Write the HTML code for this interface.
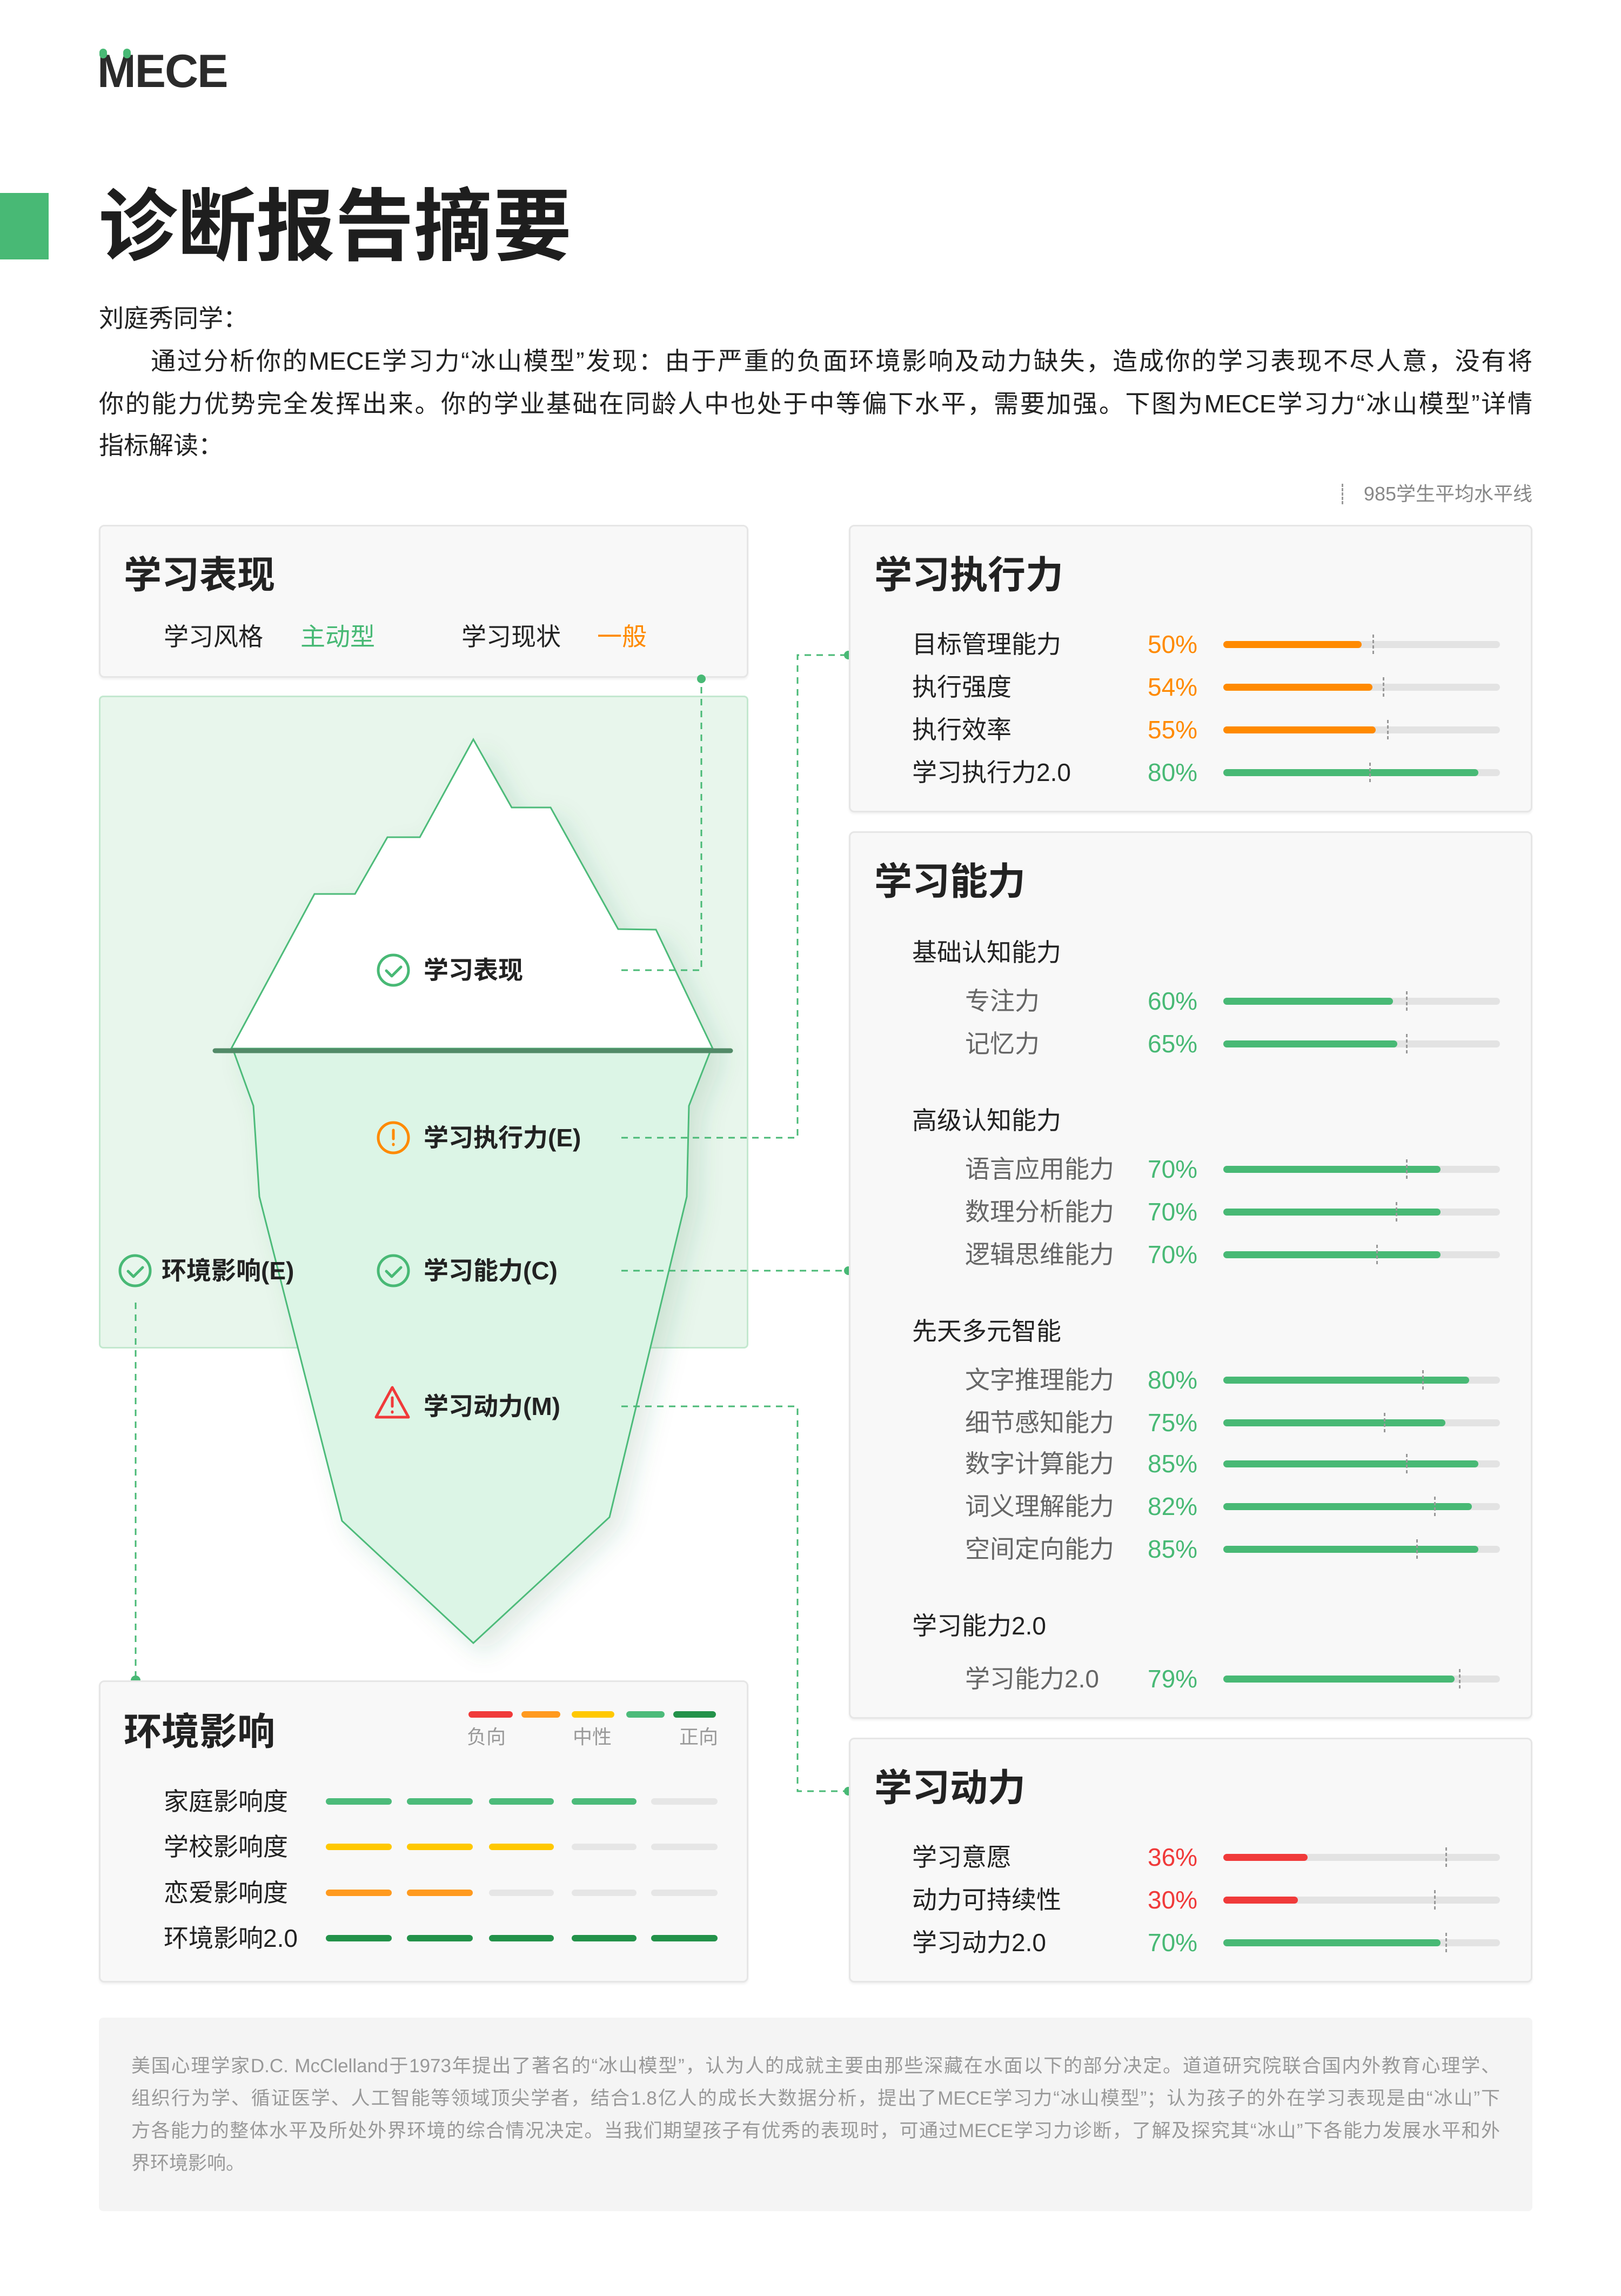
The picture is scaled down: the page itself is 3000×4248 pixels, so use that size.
<!DOCTYPE html>
<html><head><meta charset="utf-8"><style>
*{margin:0;padding:0;box-sizing:border-box}
body{width:3000px;height:4248px;background:#fff;position:relative;overflow:hidden;font-family:"Liberation Sans","Noto Sans CJK SC",sans-serif;color:#222}
.a{position:absolute;white-space:nowrap}
.card{position:absolute;background:#f8f8f8;border:3px solid #e6e6e6;border-radius:10px;box-shadow:0 3px 4px rgba(0,0,0,0.06)}
.t{font-size:70px;font-weight:bold;line-height:80px}
.l{font-size:46px;line-height:60px}
.g{color:#48b975}.o{color:#ff8a00}.r{color:#f03a3a}
.trk{position:absolute;height:13px;background:#e3e3e3;border-radius:7px;width:512px;left:2264px}
.fl{position:absolute;left:0;top:0;height:13px;border-radius:7px}
.mk{position:absolute;width:0;height:36px;border-left:3px dashed #999;top:-12px}
.jl{position:absolute;text-align:justify;text-align-last:justify;white-space:nowrap}
.seg{position:absolute;height:12px;border-radius:6px}
</style></head><body>

<!-- logo -->
<div class="a" style="left:180px;top:82px;font-size:86px;font-weight:bold;color:#2b2b2b;letter-spacing:-2px;line-height:100px">MECE</div>
<div class="a" style="left:184px;top:90px;width:14px;height:18px;background:#48b975;border-radius:7px"></div>
<div class="a" style="left:228px;top:90px;width:14px;height:18px;background:#48b975;border-radius:7px"></div>

<!-- title -->
<div class="a" style="left:0;top:357px;width:90px;height:123px;background:#48b975"></div>
<div class="a" style="left:182px;top:340px;font-size:146px;font-weight:bold;line-height:160px;color:#1e1e1e">诊断报告摘要</div>

<!-- paragraph -->
<div class="a l" style="left:183px;top:559px;font-size:46px">刘庭秀同学：</div>
<div class="jl l" style="left:183px;top:638px;width:2653px;padding-left:96px">通过分析你的MECE学习力“冰山模型”发现：由于严重的负面环境影响及动力缺失，造成你的学习表现不尽人意，没有将</div>
<div class="jl l" style="left:183px;top:717px;width:2653px">你的能力优势完全发挥出来。你的学业基础在同龄人中也处于中等偏下水平，需要加强。下图为MECE学习力“冰山模型”详情</div>
<div class="a l" style="left:183px;top:794px">指标解读：</div>

<div class="a" style="left:2483px;top:895px;height:38px;border-left:3px dashed #999"></div>
<div class="a" style="right:164px;top:892px;font-size:36px;line-height:44px;color:#888">985学生平均水平线</div>

<!-- 学习表现 card -->
<div class="card" style="left:183px;top:971px;width:1202px;height:283px"></div>
<div class="a t" style="left:229px;top:1024px">学习表现</div>
<div class="a l" style="left:303px;top:1148px">学习风格</div>
<div class="a l g" style="left:556px;top:1148px">主动型</div>
<div class="a l" style="left:854px;top:1148px">学习现状</div>
<div class="a l o" style="left:1105px;top:1148px">一般</div>

<!-- green box -->
<div class="a" style="left:183px;top:1287px;width:1202px;height:1208px;background:#e8f6ec;border:3px solid #c3e8cf;border-radius:8px"></div>

<svg class="a" style="left:0;top:0" width="3000" height="4248" viewBox="0 0 3000 4248">
<defs><filter id="sh" x="-20%" y="-20%" width="140%" height="140%"><feDropShadow dx="20" dy="20" stdDeviation="22" flood-color="#2e7a4a" flood-opacity="0.15"/></filter></defs>
<g filter="url(#sh)">
<polygon points="432,1944 469,2046 480,2214 633,2814 876,3040 1128,2807 1271,2214 1275,2046 1315,1944" fill="#dcf5e6" stroke="#4dbb7a" stroke-width="3"/>
<polygon points="428,1940 582,1654 657,1654 717,1549 777,1549 876,1368 947,1494 1019,1494 1144,1719 1214,1720 1319,1940" fill="#fff" stroke="#4dbb7a" stroke-width="3"/>
</g>
<line x1="398" y1="1944" x2="1352" y2="1944" stroke="#528a68" stroke-width="9" stroke-linecap="round"/>
<g stroke="#48b975" stroke-width="3" stroke-dasharray="12,10" fill="none">
<polyline points="1150,1795 1298,1795 1298,1256"/>
<polyline points="1150,2105 1476,2105 1476,1212 1568,1212"/>
<polyline points="1150,2351 1568,2351"/>
<polyline points="1150,2602 1476,2602 1476,3314 1568,3314"/>
<polyline points="251,2410 251,3109"/>
</g>
<g fill="#48b975">
<circle cx="1298" cy="1256" r="8"/><circle cx="1570" cy="1212" r="8"/><circle cx="1570" cy="2351" r="8"/><circle cx="1570" cy="3314" r="8"/><circle cx="251" cy="3109" r="9"/>
</g>
<g fill="none" stroke-width="5" stroke-linecap="round" stroke-linejoin="round">
<circle cx="728" cy="1795" r="28" stroke="#48b975"/><polyline points="715,1796 725,1806 742,1789" stroke="#48b975"/>
<circle cx="728" cy="2105" r="28" stroke="#ff8a00"/><line x1="728" y1="2091" x2="728" y2="2107" stroke="#ff8a00"/><line x1="728" y1="2117" x2="728" y2="2118" stroke="#ff8a00"/>
<circle cx="728" cy="2351" r="28" stroke="#48b975"/><polyline points="715,2352 725,2362 742,2345" stroke="#48b975"/>
<path d="M726,2567 L756,2622 L696,2622 Z" stroke="#f03a3a"/><line x1="726" y1="2586" x2="726" y2="2602" stroke="#f03a3a"/><line x1="726" y1="2612" x2="726" y2="2613" stroke="#f03a3a"/>
<circle cx="250" cy="2351" r="28" stroke="#48b975"/><polyline points="237,2352 247,2362 264,2345" stroke="#48b975"/>
</g>
</svg>

<div class="a l" style="left:784px;top:1765px;font-weight:bold">学习表现</div>
<div class="a l" style="left:784px;top:2075px;font-weight:bold">学习执行力(E)</div>
<div class="a l" style="left:784px;top:2321px;font-weight:bold">学习能力(C)</div>
<div class="a l" style="left:784px;top:2572px;font-weight:bold">学习动力(M)</div>
<div class="a l" style="left:299px;top:2321px;font-weight:bold">环境影响(E)</div>

<!-- 环境影响 card -->
<div class="card" style="left:183px;top:3109px;width:1202px;height:559px"></div>
<div class="a t" style="left:229px;top:3164px">环境影响</div>
<div class="seg" style="left:867px;top:3166px;width:82px;background:#f03a3a"></div>
<div class="seg" style="left:965px;top:3166px;width:72px;background:#ff9a1f"></div>
<div class="seg" style="left:1058px;top:3166px;width:79px;background:#ffc800"></div>
<div class="seg" style="left:1159px;top:3166px;width:71px;background:#4cbb7a"></div>
<div class="seg" style="left:1246px;top:3166px;width:79px;background:#23924a"></div>
<div class="a" style="left:864px;top:3192px;font-size:36px;line-height:44px;color:#999">负向</div>
<div class="a" style="left:1060px;top:3192px;font-size:36px;line-height:44px;color:#999">中性</div>
<div class="a" style="left:1257px;top:3192px;font-size:36px;line-height:44px;color:#999">正向</div>

<div class="a l" style="left:303px;top:3303px">家庭影响度</div>
<div class="a l" style="left:303px;top:3387px">学校影响度</div>
<div class="a l" style="left:303px;top:3472px">恋爱影响度</div>
<div class="a l" style="left:303px;top:3556px">环境影响2.0</div>

<div class="seg" style="left:603px;top:3327px;width:122px;background:#4cbb7a"></div>
<div class="seg" style="left:753px;top:3327px;width:122px;background:#4cbb7a"></div>
<div class="seg" style="left:905px;top:3327px;width:120px;background:#4cbb7a"></div>
<div class="seg" style="left:1058px;top:3327px;width:120px;background:#4cbb7a"></div>
<div class="seg" style="left:1205px;top:3327px;width:123px;background:#e6e6e6"></div>

<div class="seg" style="left:603px;top:3411px;width:122px;background:#ffc800"></div>
<div class="seg" style="left:753px;top:3411px;width:122px;background:#ffc800"></div>
<div class="seg" style="left:905px;top:3411px;width:120px;background:#ffc800"></div>
<div class="seg" style="left:1058px;top:3411px;width:120px;background:#e6e6e6"></div>
<div class="seg" style="left:1205px;top:3411px;width:123px;background:#e6e6e6"></div>

<div class="seg" style="left:603px;top:3496px;width:122px;background:#ff9a1f"></div>
<div class="seg" style="left:753px;top:3496px;width:122px;background:#ff9a1f"></div>
<div class="seg" style="left:905px;top:3496px;width:120px;background:#e6e6e6"></div>
<div class="seg" style="left:1058px;top:3496px;width:120px;background:#e6e6e6"></div>
<div class="seg" style="left:1205px;top:3496px;width:123px;background:#e6e6e6"></div>

<div class="seg" style="left:603px;top:3580px;width:122px;background:#23924a"></div>
<div class="seg" style="left:753px;top:3580px;width:122px;background:#23924a"></div>
<div class="seg" style="left:905px;top:3580px;width:120px;background:#23924a"></div>
<div class="seg" style="left:1058px;top:3580px;width:120px;background:#23924a"></div>
<div class="seg" style="left:1205px;top:3580px;width:123px;background:#23924a"></div>

<!-- 学习执行力 -->
<div class="card" style="left:1571px;top:971px;width:1265px;height:532px"></div>
<div class="a t" style="left:1618px;top:1024px">学习执行力</div>
<div class="a l" style="left:1688px;top:1162px">目标管理能力</div>
<div class="a l" style="left:1688px;top:1241px">执行强度</div>
<div class="a l" style="left:1688px;top:1320px">执行效率</div>
<div class="a l" style="left:1688px;top:1399px">学习执行力2.0</div>
<div class="a l o" style="left:2124px;top:1162px">50%</div>
<div class="a l o" style="left:2124px;top:1241px">54%</div>
<div class="a l o" style="left:2124px;top:1320px">55%</div>
<div class="a l g" style="left:2124px;top:1399px">80%</div>
<div class="trk" style="top:1186px"><div class="fl" style="width:256px;background:#ff8a00"></div><div class="mk" style="left:276px"></div></div>
<div class="trk" style="top:1265px"><div class="fl" style="width:276px;background:#ff8a00"></div><div class="mk" style="left:295px"></div></div>
<div class="trk" style="top:1344px"><div class="fl" style="width:282px;background:#ff8a00"></div><div class="mk" style="left:303px"></div></div>
<div class="trk" style="top:1423px"><div class="fl" style="width:472px;background:#48b975"></div><div class="mk" style="left:270px"></div></div>

<!-- 学习能力 -->
<div class="card" style="left:1571px;top:1538px;width:1265px;height:1642px"></div>
<div class="a t" style="left:1618px;top:1591px">学习能力</div>
<div class="a l" style="left:1688px;top:1732px">基础认知能力</div>
<div class="a l" style="left:1688px;top:2043px">高级认知能力</div>
<div class="a l" style="left:1688px;top:2433px">先天多元智能</div>
<div class="a l" style="left:1688px;top:2978px">学习能力2.0</div>

<div class="a l" style="left:1786px;top:1822px;color:#666">专注力</div>
<div class="a l" style="left:1786px;top:1901px;color:#666">记忆力</div>
<div class="a l" style="left:1786px;top:2133px;color:#666">语言应用能力</div>
<div class="a l" style="left:1786px;top:2212px;color:#666">数理分析能力</div>
<div class="a l" style="left:1786px;top:2291px;color:#666">逻辑思维能力</div>
<div class="a l" style="left:1786px;top:2523px;color:#666">文字推理能力</div>
<div class="a l" style="left:1786px;top:2602px;color:#666">细节感知能力</div>
<div class="a l" style="left:1786px;top:2678px;color:#666">数字计算能力</div>
<div class="a l" style="left:1786px;top:2757px;color:#666">词义理解能力</div>
<div class="a l" style="left:1786px;top:2836px;color:#666">空间定向能力</div>
<div class="a l" style="left:1786px;top:3076px;color:#666">学习能力2.0</div>

<div class="a l g" style="left:2124px;top:1822px">60%</div>
<div class="a l g" style="left:2124px;top:1901px">65%</div>
<div class="a l g" style="left:2124px;top:2133px">70%</div>
<div class="a l g" style="left:2124px;top:2212px">70%</div>
<div class="a l g" style="left:2124px;top:2291px">70%</div>
<div class="a l g" style="left:2124px;top:2523px">80%</div>
<div class="a l g" style="left:2124px;top:2602px">75%</div>
<div class="a l g" style="left:2124px;top:2678px">85%</div>
<div class="a l g" style="left:2124px;top:2757px">82%</div>
<div class="a l g" style="left:2124px;top:2836px">85%</div>
<div class="a l g" style="left:2124px;top:3076px">79%</div>

<div class="trk" style="top:1846px"><div class="fl" style="width:314px;background:#48b975"></div><div class="mk" style="left:338px"></div></div>
<div class="trk" style="top:1925px"><div class="fl" style="width:322px;background:#48b975"></div><div class="mk" style="left:338px"></div></div>
<div class="trk" style="top:2157px"><div class="fl" style="width:402px;background:#48b975"></div><div class="mk" style="left:338px"></div></div>
<div class="trk" style="top:2236px"><div class="fl" style="width:402px;background:#48b975"></div><div class="mk" style="left:319px"></div></div>
<div class="trk" style="top:2315px"><div class="fl" style="width:402px;background:#48b975"></div><div class="mk" style="left:283px"></div></div>
<div class="trk" style="top:2547px"><div class="fl" style="width:455px;background:#48b975"></div><div class="mk" style="left:368px"></div></div>
<div class="trk" style="top:2626px"><div class="fl" style="width:411px;background:#48b975"></div><div class="mk" style="left:297px"></div></div>
<div class="trk" style="top:2702px"><div class="fl" style="width:472px;background:#48b975"></div><div class="mk" style="left:338px"></div></div>
<div class="trk" style="top:2781px"><div class="fl" style="width:460px;background:#48b975"></div><div class="mk" style="left:390px"></div></div>
<div class="trk" style="top:2860px"><div class="fl" style="width:472px;background:#48b975"></div><div class="mk" style="left:357px"></div></div>
<div class="trk" style="top:3100px"><div class="fl" style="width:428px;background:#48b975"></div><div class="mk" style="left:436px"></div></div>

<!-- 学习动力 -->
<div class="card" style="left:1571px;top:3215px;width:1265px;height:453px"></div>
<div class="a t" style="left:1618px;top:3268px">学习动力</div>
<div class="a l" style="left:1688px;top:3406px">学习意愿</div>
<div class="a l" style="left:1688px;top:3485px">动力可持续性</div>
<div class="a l" style="left:1688px;top:3564px">学习动力2.0</div>
<div class="a l r" style="left:2124px;top:3406px">36%</div>
<div class="a l r" style="left:2124px;top:3485px">30%</div>
<div class="a l g" style="left:2124px;top:3564px">70%</div>
<div class="trk" style="top:3430px"><div class="fl" style="width:156px;background:#f03a3a"></div><div class="mk" style="left:411px"></div></div>
<div class="trk" style="top:3509px"><div class="fl" style="width:138px;background:#f03a3a"></div><div class="mk" style="left:390px"></div></div>
<div class="trk" style="top:3588px"><div class="fl" style="width:402px;background:#48b975"></div><div class="mk" style="left:411px"></div></div>

<!-- footer -->
<div class="a" style="left:183px;top:3733px;width:2653px;height:358px;background:#f4f4f4;border-radius:8px"></div>
<div class="jl" style="left:243px;top:3801px;width:2533px;font-size:35px;line-height:44px;color:#999">美国心理学家D.C. McClelland于1973年提出了著名的“冰山模型”，认为人的成就主要由那些深藏在水面以下的部分决定。道道研究院联合国内外教育心理学、</div>
<div class="jl" style="left:243px;top:3861px;width:2533px;font-size:35px;line-height:44px;color:#999">组织行为学、循证医学、人工智能等领域顶尖学者，结合1.8亿人的成长大数据分析，提出了MECE学习力“冰山模型”；认为孩子的外在学习表现是由“冰山”下</div>
<div class="jl" style="left:243px;top:3921px;width:2533px;font-size:35px;line-height:44px;color:#999">方各能力的整体水平及所处外界环境的综合情况决定。当我们期望孩子有优秀的表现时，可通过MECE学习力诊断，了解及探究其“冰山”下各能力发展水平和外</div>
<div class="a" style="left:243px;top:3981px;font-size:35px;line-height:44px;color:#999">界环境影响。</div>

</body></html>
